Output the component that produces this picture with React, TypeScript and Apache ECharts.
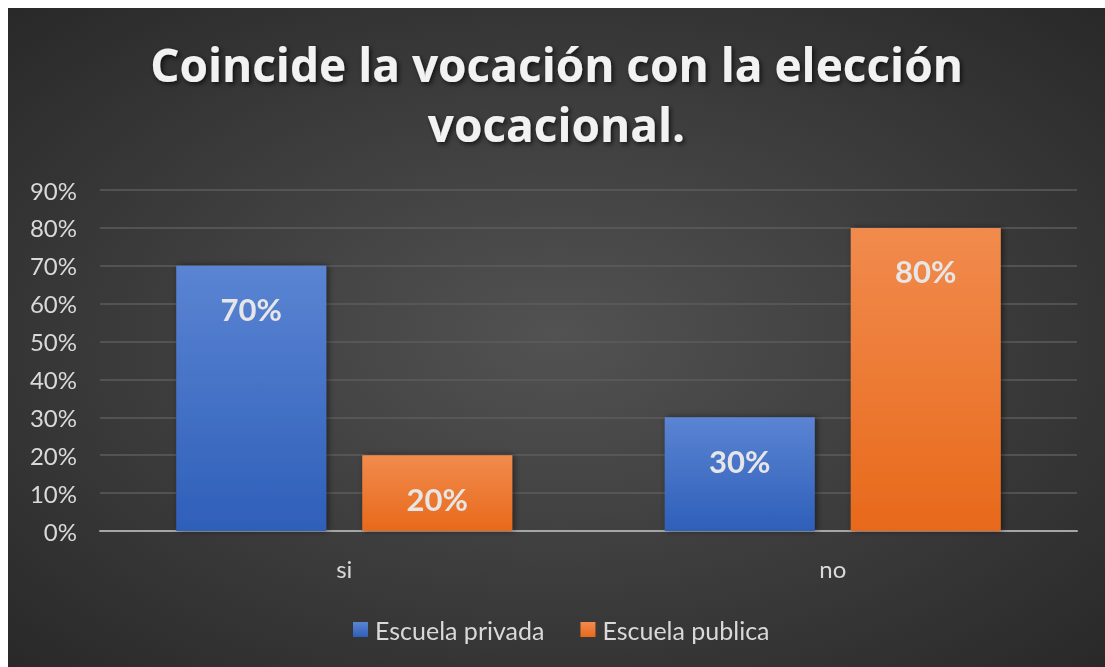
import React, { useEffect, useRef } from "react";
import * as echarts from "echarts";

const categories = ["si", "no"];
const privada = [0.7, 0.3];
const publica = [0.2, 0.8];
const seriesNames = ["Escuela privada", "Escuela publica"];
const titleText = "Coincide la vocación con la elección\nvocacional.";

const FONT = "Lato, 'Open Sans', sans-serif";
const TITLE_FONT = "'Open Sans', sans-serif";

export default function App() {
  const ref = useRef<HTMLDivElement>(null);
  useEffect(() => {
    if (!ref.current) return;
    const chart = echarts.init(ref.current, null, { renderer: "svg" });
    const pct = (v: number) => Math.round(v * 100) + "%";
    const labelStyle = {
      show: true,
      position: "insideTop",
      distance: 28,
      color: "#e6e6e6",
      fontSize: 31,
      fontWeight: "bold",
      fontFamily: FONT,
      formatter: (p: any) => pct(p.value),
    };
    chart.setOption({
      animation: false,
      backgroundColor: new echarts.graphic.RadialGradient(0.5, 0.5, 0.75, [
        { offset: 0, color: "#525252" },
        { offset: 1, color: "#262626" },
      ]),
      graphic: [
        {
          type: "text",
          left: "center",
          top: 26,
          style: {
            text: titleText,
            textAlign: "center",
            fill: "#f2f2f2",
            fontSize: 46,
            fontWeight: "bold",
            fontFamily: TITLE_FONT,
            lineHeight: 60,
            textShadowColor: "rgba(0,0,0,0.7)",
            textShadowBlur: 5,
            textShadowOffsetX: 2,
            textShadowOffsetY: 2,
          },
        },
      ],
      legend: {
        top: 604,
        left: 340,
        itemWidth: 15,
        itemHeight: 15,
        itemGap: 36,
        icon: "rect",
        textStyle: { color: "#d9d9d9", fontSize: 25, fontFamily: FONT, padding: [0, 0, 0, 2] },
        data: seriesNames,
      },
      grid: { left: 92, right: 28, top: 182, bottom: 136 },
      xAxis: {
        type: "category",
        data: categories,
        axisLine: { lineStyle: { color: "#a6a6a6", width: 2 } },
        axisTick: { show: false },
        axisLabel: { color: "#d9d9d9", fontSize: 24, fontFamily: FONT, margin: 25 },
      },
      yAxis: {
        type: "value",
        min: 0,
        max: 0.9,
        interval: 0.1,
        axisLine: { show: false },
        axisTick: { show: false },
        axisLabel: {
          color: "#d9d9d9",
          fontSize: 24,
          fontFamily: FONT,
          margin: 23,
          formatter: (v: number) => pct(v),
        },
        splitLine: { lineStyle: { color: "#5c5c5c", width: 1.5 } },
      },
      series: [
        {
          name: seriesNames[0],
          type: "bar",
          data: privada,
          barWidth: 150,
          barGap: "24%",
          itemStyle: {
            color: new echarts.graphic.LinearGradient(0, 0, 0, 1, [
              { offset: 0, color: "#5b84d3" },
              { offset: 1, color: "#2e5fb9" },
            ]),
            shadowColor: "rgba(0,0,0,0.5)",
            shadowBlur: 6,
            shadowOffsetX: 2,
          },
          label: labelStyle,
        },
        {
          name: seriesNames[1],
          type: "bar",
          data: publica,
          barWidth: 150,
          itemStyle: {
            color: new echarts.graphic.LinearGradient(0, 0, 0, 1, [
              { offset: 0, color: "#f18b4d" },
              { offset: 1, color: "#e8691b" },
            ]),
            shadowColor: "rgba(0,0,0,0.5)",
            shadowBlur: 6,
            shadowOffsetX: 2,
          },
          label: labelStyle,
        },
      ],
    });
    return () => chart.dispose();
  }, []);
  return (
    <div
      ref={ref}
      style={{ position: "fixed", left: 8, top: 8, width: 1097, height: 659 }}
    />
  );
}
